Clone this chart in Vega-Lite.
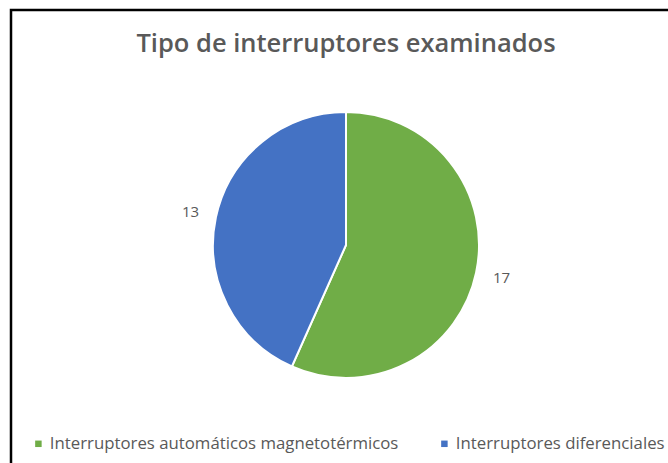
{
  "$schema": "https://vega.github.io/schema/vega-lite/v6.json",
  "autosize": {"type": "none"},
  "width": 670,
  "height": 470,
  "padding": {"top": 10, "left": 11, "right": 0, "bottom": 0},
  "background": "white",
  "view": {"stroke": "#000000", "strokeWidth": 2.5},
  "title": {
    "text": "Tipo de interruptores examinados",
    "anchor": "middle",
    "frame": "group",
    "offset": -45,
    "baseline": "bottom",
    "dy": 27,
    "font": "Open Sans",
    "fontSize": 25.5,
    "fontWeight": 600,
    "color": "#595959"
  },
  "data": {
    "values": [
      {"tipo": "Interruptores automáticos magnetotérmicos", "cantidad": 17, "orden": 1},
      {"tipo": "Interruptores diferenciales", "cantidad": 13, "orden": 2}
    ]
  },
  "encoding": {
    "theta": {"field": "cantidad", "type": "quantitative", "stack": true},
    "order": {"field": "orden", "type": "quantitative"},
    "color": {
      "field": "tipo",
      "type": "nominal",
      "sort": ["Interruptores automáticos magnetotérmicos", "Interruptores diferenciales"],
      "scale": {
        "domain": ["Interruptores automáticos magnetotérmicos", "Interruptores diferenciales"],
        "range": ["#70AD47", "#4472C4"]
      },
      "legend": {
        "title": null,
        "orient": "none",
        "direction": "horizontal",
        "legendX": 19,
        "legendY": 425,
        "symbolType": "square",
        "symbolSize": 42,
        "symbolStrokeWidth": 0,
        "labelFont": "Open Sans",
        "labelFontSize": 16.8,
        "labelColor": "#595959",
        "labelLimit": 500,
        "columnPadding": 37,
        "labelOffset": 3
      }
    }
  },
  "layer": [
    {
      "mark": {"type": "arc", "radius": 133, "stroke": "white", "strokeWidth": 2}
    },
    {
      "mark": {"type": "text", "radius": 159, "font": "Open Sans", "fontSize": 15},
      "encoding": {
        "text": {"field": "cantidad", "type": "quantitative"},
        "color": {"value": "#595959"}
      }
    }
  ]
}
